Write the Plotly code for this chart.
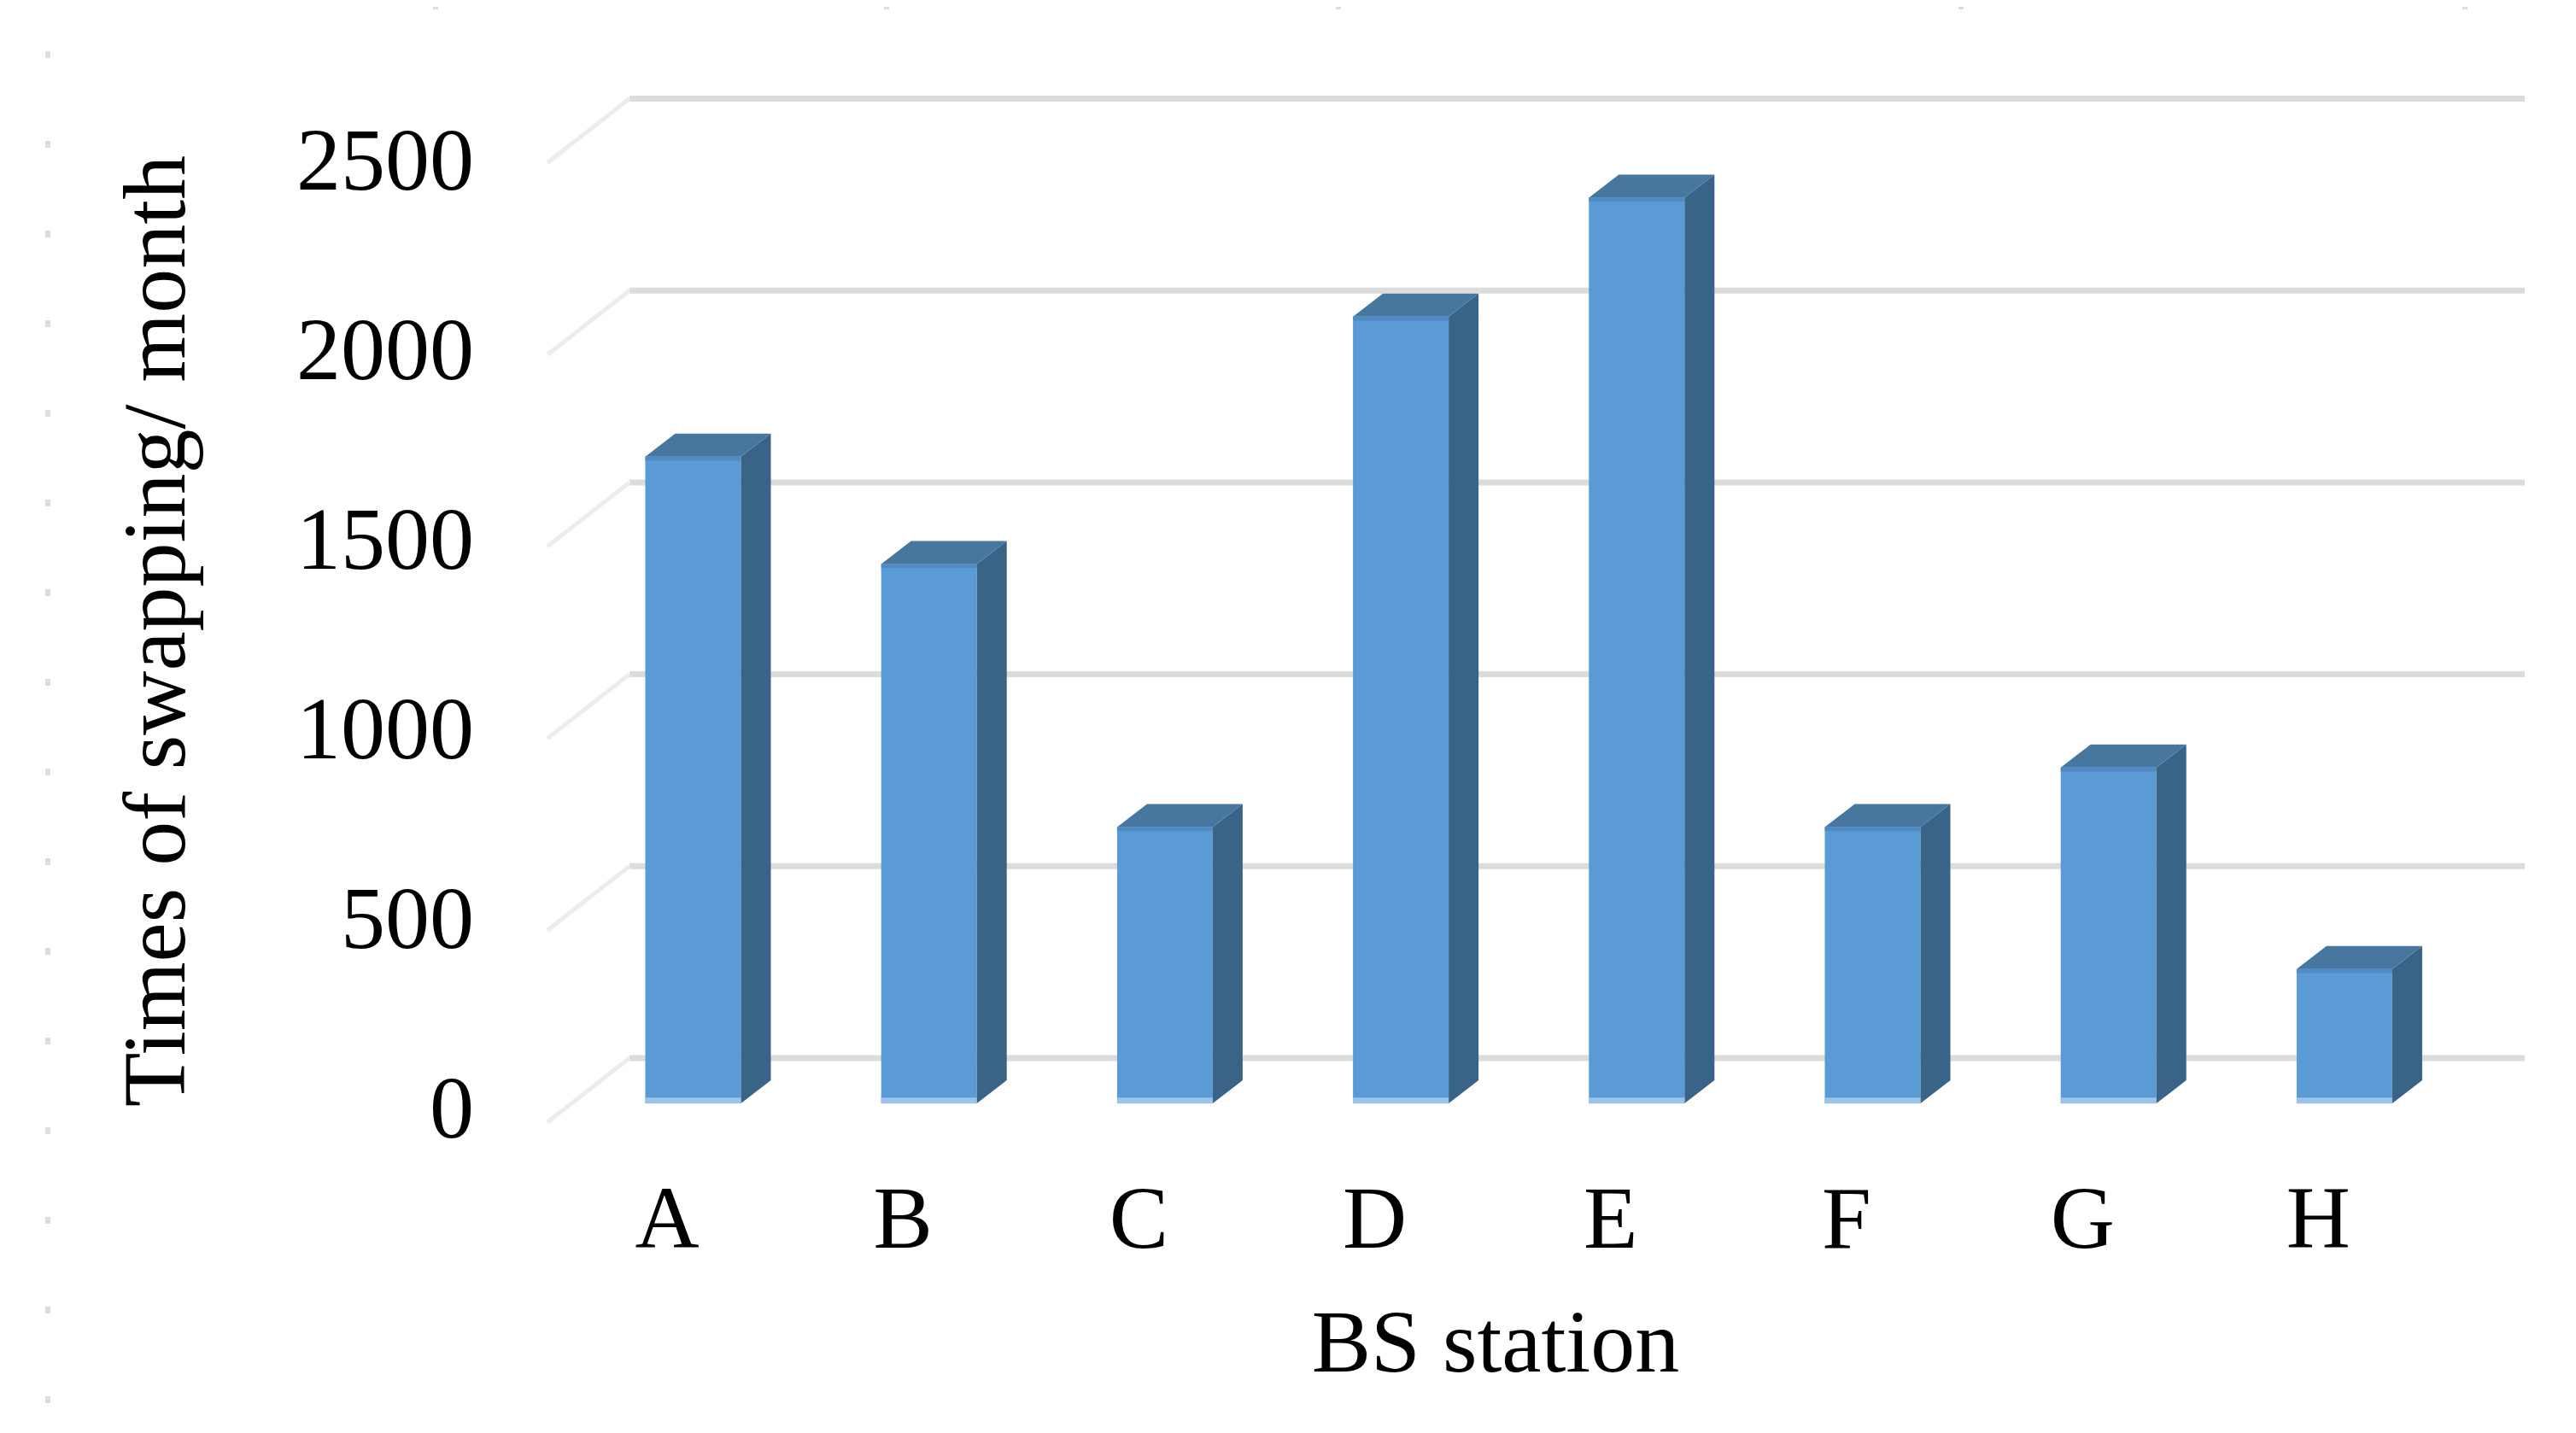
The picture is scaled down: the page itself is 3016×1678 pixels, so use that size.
import plotly.graph_objects as go

# Data
categories = ["A", "B", "C", "D", "E", "F", "G", "H"]
swaps = [1685, 1405, 720, 2050, 2360, 720, 875, 350]
y_ticks = [0, 500, 1000, 1500, 2000, 2500]

W, H = 3016, 1678
FONT = "Liberation Serif"
FS = 104

# scale of the bar plane: category i at px 803.5+276.2*i, value v at px 1284-0.4494*v
PX_X0, PX_PER_CAT = 803.5, 276.2
PX_Y0, PX_PER_VAL = 1284.0, 0.4494
xr = [-PX_X0 / PX_PER_CAT, (W - PX_X0) / PX_PER_CAT]
yr = [(PX_Y0 - H) / PX_PER_VAL, PX_Y0 / PX_PER_VAL]

half = 56 / PX_PER_CAT
dx = 35 / PX_PER_CAT
dy = 27 / PX_PER_VAL
# wall geometry, expressed as offsets from the bar plane
wall_left = (729 - PX_X0) / PX_PER_CAT
wall_right = (2948 - PX_X0) / PX_PER_CAT
front_left = (633 - PX_X0) / PX_PER_CAT
wall_dy = (PX_Y0 - 1231) / PX_PER_VAL
front_dy = (PX_Y0 - 1306) / PX_PER_VAL

fig = go.Figure()

# wall gridlines and floor diagonals
gx, gy, fx, fy = [], [], [], []
for t in y_ticks:
    gx += [wall_left, wall_right, None]
    gy += [t + wall_dy, t + wall_dy, None]
    fx += [front_left, wall_left, None]
    fy += [t + front_dy, t + wall_dy, None]
fig.add_trace(go.Scatter(x=gx, y=gy, mode="lines", line=dict(color="#dcdcdc", width=7),
                         hoverinfo="skip", showlegend=False, xaxis="x", yaxis="y"))
fig.add_trace(go.Scatter(x=fx, y=fy, mode="lines", line=dict(color="#ececec", width=5),
                         hoverinfo="skip", showlegend=False, xaxis="x", yaxis="y"))

idx = list(range(len(categories)))

# front faces
fig.add_trace(go.Bar(x=idx, y=swaps, width=2 * half, marker=dict(color="#5b9bd5", line=dict(width=0)),
                     showlegend=False, xaxis="x2", yaxis="y2", name="Times of swapping"))

# side and top faces, base and top strips
sx, sy, tx, ty, bx, by, ux, uy = [], [], [], [], [], [], [], []
for i, v in zip(idx, swaps):
    l, r = i - half, i + half
    sx += [r, r + dx, r + dx, r, r, None]
    sy += [0, dy, v + dy, v, 0, None]
    tx += [l, r, r + dx, l + dx, l, None]
    ty += [v, v, v + dy, v + dy, v, None]
    bx += [l, r, None]
    by += [7, 7, None]
    ux += [l, r, None]
    uy += [v - 5, v - 5, None]
fig.add_trace(go.Scatter(x=sx, y=sy, mode="lines", fill="toself", fillcolor="#3a6388",
                         line=dict(width=0, color="#3a6388"), hoverinfo="skip", showlegend=False,
                         xaxis="x2", yaxis="y2"))
fig.add_trace(go.Scatter(x=tx, y=ty, mode="lines", fill="toself", fillcolor="#47779f",
                         line=dict(width=0, color="#47779f"), hoverinfo="skip", showlegend=False,
                         xaxis="x2", yaxis="y2"))
fig.add_trace(go.Scatter(x=bx, y=by, mode="lines", line=dict(color="#9dc3e6", width=7),
                         hoverinfo="skip", showlegend=False, xaxis="x2", yaxis="y2"))
fig.add_trace(go.Scatter(x=ux, y=uy, mode="lines", line=dict(color="#4f8ac2", width=5),
                         hoverinfo="skip", showlegend=False, xaxis="x2", yaxis="y2"))

# carrier for the label axes
fig.add_trace(go.Scatter(x=[None], y=[None], mode="markers", showlegend=False, hoverinfo="skip",
                         xaxis="x3", yaxis="y3"))

# label axes: ticks sit at the front plane, slightly offset from the bars
LBL_X0 = 773.0
LBL_Y0, LBL_PER_VAL = 1288.0, 0.444
x3_left = 470.0
y3_bottom = 1462.0
font = dict(family=FONT, size=FS, color="#000000")

# small ruler specks from the source scan
speck_ys = [56 + 105 * k for k in range(16)]
speck_xs = [502, 1030, 1559, 2288, 2878]
shapes = []
for py in speck_ys:
    shapes.append(dict(type="rect", xref="paper", yref="paper", x0=45 / W, x1=51 / W,
                       y0=1 - (py + 4) / H, y1=1 - (py - 4) / H,
                       fillcolor="#dddddd", line=dict(width=0)))
for px in speck_xs:
    shapes.append(dict(type="rect", xref="paper", yref="paper", x0=(px - 3) / W, x1=(px + 3) / W,
                       y0=1 - 3 / H, y1=1, fillcolor="#dddddd", line=dict(width=0)))

fig.update_layout(
    width=W, height=H, autosize=False,
    margin=dict(l=0, r=0, t=0, b=0, pad=0),
    paper_bgcolor="#ffffff", plot_bgcolor="rgba(0,0,0,0)",
    showlegend=False, barmode="overlay",
    shapes=shapes,
    xaxis=dict(domain=[0, 1], range=xr, visible=False, fixedrange=True),
    yaxis=dict(domain=[0, 1], range=yr, visible=False, fixedrange=True),
    xaxis2=dict(domain=[0, 1], range=xr, visible=False, anchor="y2", fixedrange=True),
    yaxis2=dict(domain=[0, 1], range=yr, visible=False, anchor="x2", fixedrange=True),
    xaxis3=dict(domain=[x3_left / W, 1],
                range=[(x3_left - LBL_X0) / PX_PER_CAT, (W - LBL_X0) / PX_PER_CAT],
                anchor="free", position=1 - 1348 / H, side="bottom",
                tickmode="array", tickvals=idx, ticktext=categories, tickfont=font,
                ticks="", showgrid=False, zeroline=False, showline=False, fixedrange=True,
                title=dict(text="BS station", font=font, standoff=51), automargin=False),
    yaxis3=dict(domain=[1 - y3_bottom / H, 1],
                range=[(LBL_Y0 - y3_bottom) / LBL_PER_VAL, LBL_Y0 / LBL_PER_VAL],
                anchor="free", position=547 / W, side="left",
                tickmode="array", tickvals=y_ticks, tickfont=font,
                ticks="", showgrid=False, zeroline=False, showline=False, fixedrange=True,
                title=dict(text="Times of swapping/ month", font=font, standoff=94), automargin=False),
)

fig.write_html("out.html", config=dict(displayModeBar=False))
